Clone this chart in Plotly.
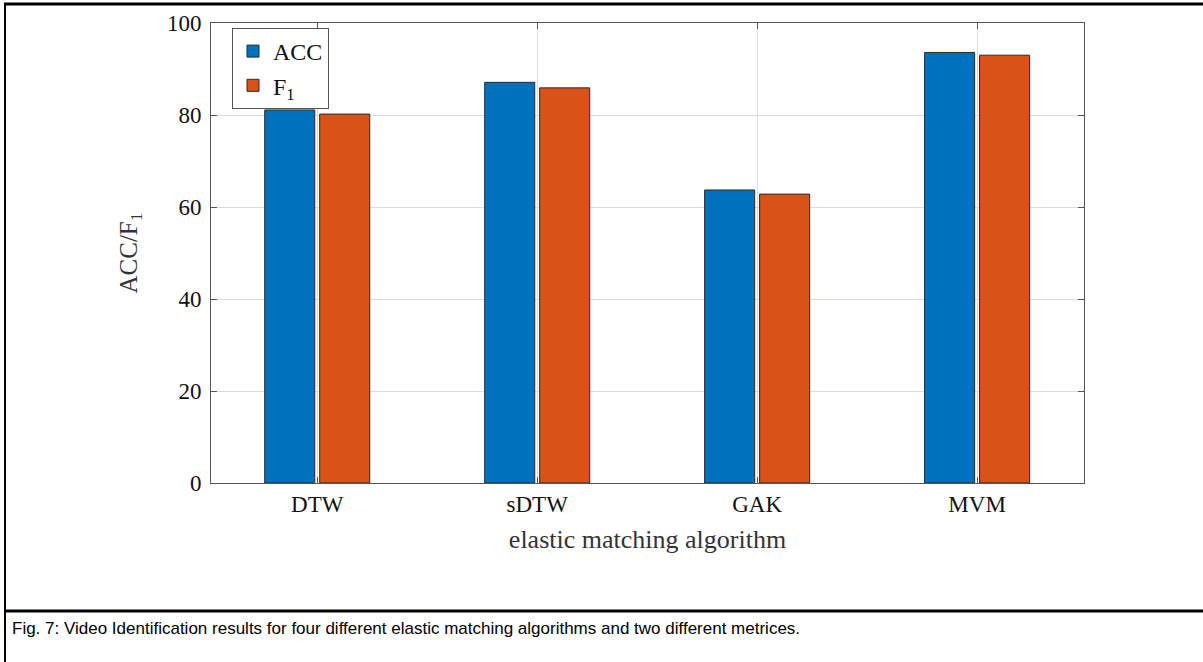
import plotly.graph_objects as go

categories = ["DTW", "sDTW", "GAK", "MVM"]
acc_values = [81.1, 87.1, 63.7, 93.6]
f1_values = [80.2, 85.9, 62.8, 93.0]
y_ticks = [0, 20, 40, 60, 80, 100]

W, H = 1203, 662
L, R, T, B = 211, 119, 23, 179
pw, ph = W - L - R, H - T - B

def px_x(x):
    return (x - L) / pw

def px_y(y):
    return (H - B - y) / ph

serif = "Liberation Serif, DejaVu Serif, serif"
outline = dict(color="#2a2a2a", width=1)

fig = go.Figure()
fig.add_trace(go.Bar(x=categories, y=acc_values, name="ACC",
                     marker=dict(color="#0072BD", line=outline)))
fig.add_trace(go.Bar(x=categories, y=f1_values, name="F<sub>1</sub>",
                     marker=dict(color="#D95319", line=outline)))

axis_common = dict(showline=True, linecolor="#555555", linewidth=1, mirror="ticks",
                   ticks="inside", ticklen=6, tickcolor="#555555",
                   showgrid=True, gridcolor="#dcdcdc", gridwidth=1,
                   tickfont=dict(family=serif, size=23, color="#111111"),
                   zeroline=False)

fig.update_layout(
    width=W, height=H,
    margin=dict(l=L, r=R, t=T, b=B, autoexpand=False),
    paper_bgcolor="white", plot_bgcolor="white",
    barmode="group", bargap=0.5, bargroupgap=0.09,
    xaxis=dict(**axis_common, range=[-0.483, 3.486],
               title=dict(text="elastic matching algorithm", standoff=14,
                          font=dict(family=serif, size=26, color="#333333"))),
    yaxis=dict(**axis_common, range=[0, 100], tickvals=y_ticks, ticklabelstandoff=4,
               title=dict(text="ACC/F<sub>1</sub>", standoff=22,
                          font=dict(family=serif, size=25, color="#333333"))),
    legend=dict(x=px_x(232), y=px_y(28), xanchor="left", yanchor="top",
                bgcolor="white", bordercolor="#555555", borderwidth=1,
                font=dict(family=serif, size=24, color="#111111"),
                tracegroupgap=2),
    showlegend=True,
)

# outer figure frame and caption separator
fig.add_shape(type="line", xref="paper", yref="paper",
              x0=px_x(4), x1=px_x(1203), y0=px_y(4), y1=px_y(4),
              line=dict(color="black", width=3))
fig.add_shape(type="line", xref="paper", yref="paper",
              x0=px_x(5), x1=px_x(5), y0=px_y(3), y1=px_y(662),
              line=dict(color="black", width=2))
fig.add_shape(type="line", xref="paper", yref="paper",
              x0=px_x(4), x1=px_x(1203), y0=px_y(611), y1=px_y(611),
              line=dict(color="black", width=3))

fig.add_annotation(xref="paper", yref="paper", x=px_x(10), y=px_y(628),
                   xanchor="left", yanchor="middle", showarrow=False,
                   text="Fig. 7: Video Identification results for four different elastic matching algorithms and two different metrices.",
                   font=dict(family="Liberation Sans Narrow, Liberation Sans, sans-serif", size=17, color="black"))

fig.write_html("out.html", config={"displayModeBar": False},
               post_script="document.body.style.margin='0';document.body.style.padding='0';")
